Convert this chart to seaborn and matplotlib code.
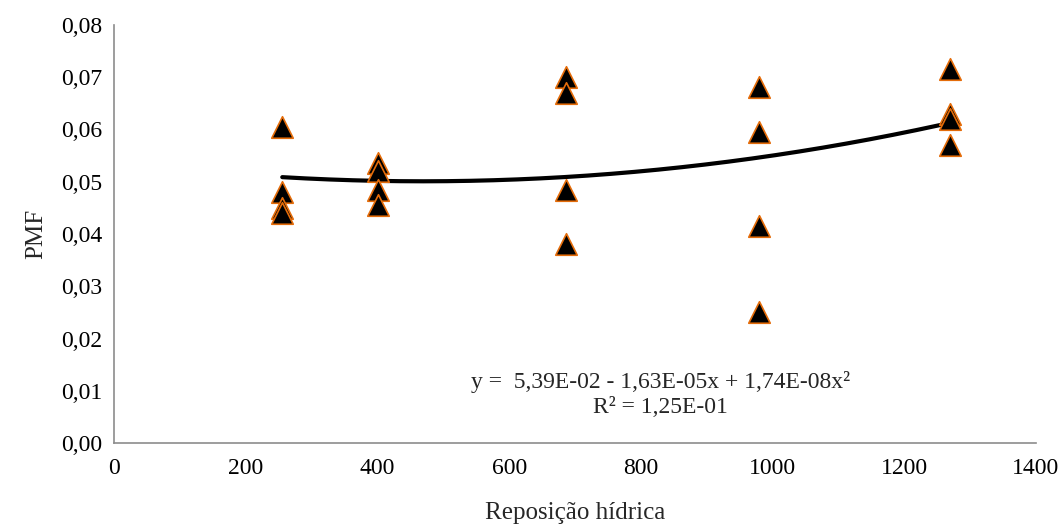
import numpy as np
import pandas as pd
import matplotlib
matplotlib.use("Agg")
import matplotlib.pyplot as plt
from matplotlib.ticker import FuncFormatter, MultipleLocator
import seaborn as sns

# water replacement levels (x) and PMF readings per level
reposicao = [255, 255, 255, 255,
             400, 400, 400, 400,
             687, 687, 687, 687,
             980, 980, 980, 980,
             1270, 1270, 1270, 1270]
pmf = [0.0605, 0.048, 0.045, 0.044,
       0.0536, 0.052, 0.0485, 0.0455,
       0.0700, 0.0670, 0.0485, 0.0380,
       0.0682, 0.0595, 0.0415, 0.0250,
       0.0715, 0.0630, 0.0620, 0.0570]

# quadratic trend line coefficients as printed on the chart
b0, b1, b2 = 5.39e-02, -1.63e-05, 1.74e-08

df = pd.DataFrame({"Reposição hídrica": reposicao, "PMF": pmf})

sns.set_style("white")
plt.rcParams["font.family"] = ["Liberation Serif", "DejaVu Serif"]

fig = plt.figure(figsize=(10.6, 5.3), dpi=100)
ax = fig.add_axes([0.108, 0.164, 0.869, 0.789])

xs = np.linspace(min(reposicao), max(reposicao), 200)
ax.plot(xs, b0 + b1 * xs + b2 * xs ** 2, color="black", lw=3, zorder=2)

sns.scatterplot(data=df, x="Reposição hídrica", y="PMF", ax=ax,
                marker="^", s=240, color="black", edgecolor="#E46C0A",
                linewidth=1.2, zorder=3)

ax.set_xlim(0, 1400)
ax.set_ylim(0, 0.08)
ax.xaxis.set_major_locator(MultipleLocator(200))
ax.yaxis.set_major_locator(MultipleLocator(0.01))
ax.yaxis.set_major_formatter(FuncFormatter(lambda v, p: f"{v:.2f}".replace(".", ",")))

for side in ["top", "right"]:
    ax.spines[side].set_visible(False)
for side in ["left", "bottom"]:
    ax.spines[side].set_color("#8c8c8c")
    ax.spines[side].set_linewidth(1.2)
ax.tick_params(axis="both", direction="out", length=5, width=1.2,
               color="#8c8c8c", labelcolor="black", labelsize=17)
ax.tick_params(axis="x", pad=6)

ax.set_xlabel("Reposição hídrica", fontsize=18, labelpad=16)
ax.set_ylabel("PMF", fontsize=18, labelpad=10)

ax.text(830, 0.0117, "y =  5,39E-02 - 1,63E-05x + 1,74E-08x²",
        ha="center", va="center", fontsize=17)
ax.text(830, 0.0069, "R² = 1,25E-01", ha="center", va="center", fontsize=17)

fig.savefig("out.png", dpi=100)
